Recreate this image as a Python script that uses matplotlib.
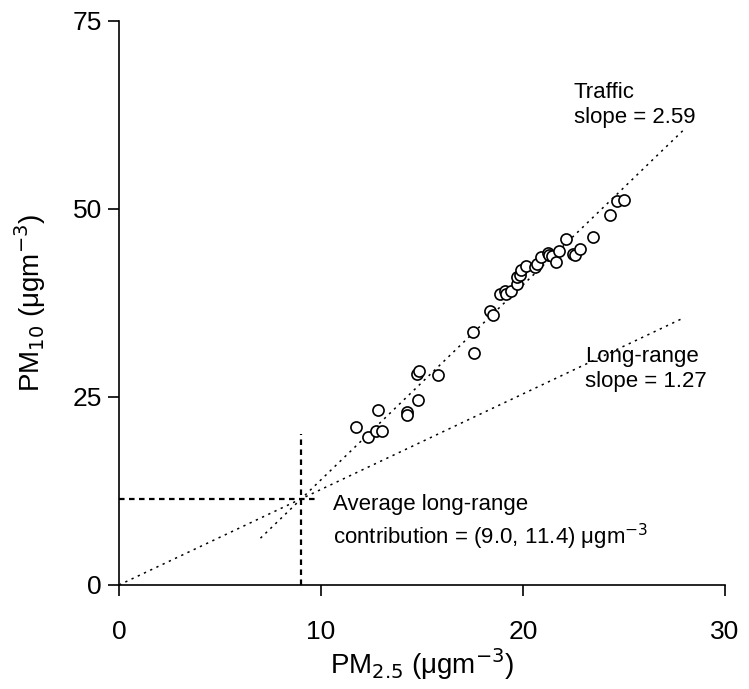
import matplotlib
matplotlib.use("Agg")
import matplotlib.pyplot as plt
import numpy as np

plt.rcParams["font.family"] = ["Liberation Sans", "DejaVu Sans"]

# ── Data: daily PM2.5 vs PM10 (µg m-3) ───────────────────────────────────────
pm25 = [11.75, 12.31, 12.73, 13.01, 12.81, 14.23, 14.25, 14.78, 14.74, 14.84,
        15.77, 17.55, 17.52, 18.38, 18.51, 18.84, 19.09, 19.17, 19.42, 19.72,
        19.70, 19.87, 19.92, 20.17, 20.58, 20.69, 20.91, 21.24, 21.29, 21.42,
        21.62, 21.78, 22.12, 22.48, 22.56, 22.81, 23.44, 24.30, 24.66, 24.99]
pm10 = [20.97, 19.69, 20.48, 20.44, 23.23, 22.97, 22.57, 24.52, 28.01, 28.45,
        27.92, 30.89, 33.63, 36.41, 35.94, 38.72, 39.07, 38.63, 39.03, 39.96,
        40.93, 41.15, 41.91, 42.35, 42.25, 42.61, 43.58, 44.11, 43.81, 43.67,
        42.92, 44.34, 46.02, 44.03, 43.81, 44.70, 46.24, 49.12, 51.02, 51.20]

# fitted slopes and the point where they cross
traffic_slope = 2.59
longrange_slope = 1.27
cross_x, cross_y = 9.0, 11.4
traffic_range = [7.0, 28.0]
longrange_range = [0.0, 28.0]

fig = plt.figure(figsize=(7.49, 6.89), dpi=100)
ax = fig.add_axes([0.159, 0.151, 0.809, 0.819])

# regression lines
tx = np.array(traffic_range)
ax.plot(tx, cross_y + traffic_slope * (tx - cross_x), color="black",
        linestyle=(0, (1.5, 3)), linewidth=1.1)
lx = np.array(longrange_range)
ax.plot(lx, longrange_slope * lx, color="black",
        linestyle=(0, (1.5, 3)), linewidth=1.1)

# crosshair at the average long-range contribution
ax.plot([0, 9.8], [cross_y, cross_y], color="black",
        linestyle=(0, (2.5, 2)), linewidth=1.6)
ax.plot([cross_x, cross_x], [0, 20], color="black",
        linestyle=(0, (2.5, 2)), linewidth=1.6)

ax.plot(pm25, pm10, linestyle="none", marker="o", markersize=8,
        markerfacecolor="white", markeredgecolor="black", markeredgewidth=1.2)

# annotations
ax.text(22.5, 66.8, "Traffic\nslope = 2.59", fontsize=16, ha="left",
        va="top", linespacing=1.2)
ax.text(23.05, 31.7, "Long-range\nslope = 1.27", fontsize=16, ha="left",
        va="top", linespacing=1.2)
ax.text(10.6, 12.1, "Average long-range\ncontribution = (9.0, 11.4) μgm$^{-3}$",
        fontsize=16, ha="left", va="top", linespacing=1.3)

ax.set_xlim(0, 30)
ax.set_ylim(0, 75)
ax.set_xticks([0, 10, 20, 30])
ax.set_yticks([0, 25, 50, 75])
ax.spines["top"].set_visible(False)
ax.spines["right"].set_visible(False)
for s in ("left", "bottom"):
    ax.spines[s].set_linewidth(1.2)
ax.tick_params(axis="x", direction="out", length=8, width=1.2, pad=17,
               labelsize=19)
ax.tick_params(axis="y", direction="out", length=8, width=1.2, pad=4.5,
               labelsize=19)

ax.set_xlabel("PM$_{2.5}$ (μgm$^{-3}$)", fontsize=20)
ax.set_ylabel("PM$_{10}$ (μgm$^{-3}$)", fontsize=20)
ax.xaxis.set_label_coords(0.5, -0.108)
ax.yaxis.set_label_coords(-0.118, 0.5)

plt.savefig("out.png", dpi=100)
